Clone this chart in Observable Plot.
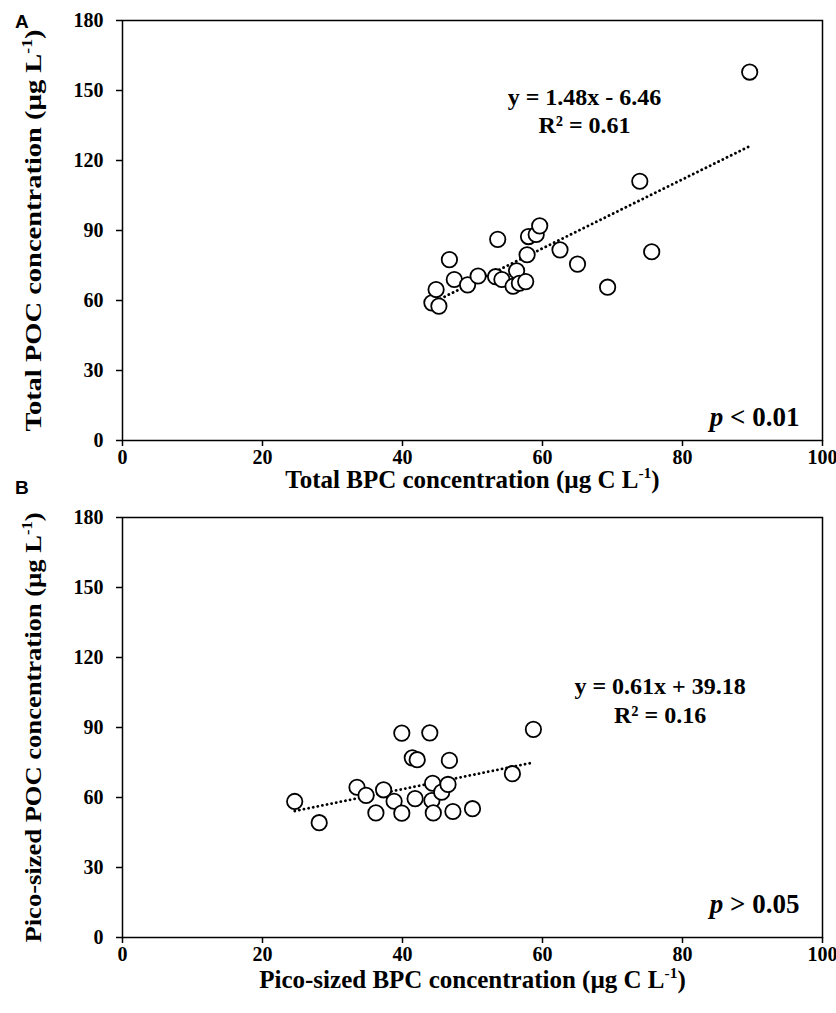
<!DOCTYPE html>
<html><head><meta charset="utf-8">
<script src="https://cdn.jsdelivr.net/npm/d3@7"></script>
<script src="https://cdn.jsdelivr.net/npm/@observablehq/plot@0.6"></script>
<style>
body{margin:0;background:#fff;}
#wrap{position:relative;width:836px;height:1013px;background:#fff;}
.panel{position:absolute;left:0;}
.tag{position:absolute;left:15px;font:bold 19px "Liberation Sans",Arial,sans-serif;color:#000;line-height:22px;}
</style></head><body>
<div id="wrap">
<div id="pa" class="panel" style="top:0"></div>
<div id="pb" class="panel" style="top:497px"></div>
<div class="tag" style="top:11px">A</div>
<div class="tag" style="top:477px">B</div>
</div>
<script>
// ---- data ----
const xTicks = [0, 20, 40, 60, 80, 100];
const yTicks = [0, 30, 60, 90, 120, 150, 180];

const totalBPC = [44.2,45.2,44.8,46.7,47.4,49.3,50.8,53.3,54.2,53.6,56.3,55.8,56.7,57.6,57.8,58.0,59.1,59.6,62.5,65.0,69.3,75.6,73.9,89.6];
const totalPOC = [59.0,57.6,64.7,77.5,69.0,66.7,70.5,70.2,69.0,86.2,72.7,66.1,67.4,68.1,79.6,87.4,88.3,92.0,81.7,75.6,65.7,80.9,111.1,157.9];
const trendA_x = [44.2, 89.6];
const trendA_y = [58.96, 126.15];

const picoBPC = [24.6,28.1,33.5,34.8,36.2,37.3,38.8,39.9,39.9,41.4,42.1,41.8,43.9,44.2,44.4,44.3,45.6,46.5,46.7,47.2,50.0,55.7,58.7];
const picoPOC = [58.3,49.2,64.4,60.9,53.4,63.3,58.4,53.3,87.6,77.0,76.2,59.5,87.7,58.7,53.4,66.1,62.3,65.6,75.9,54.0,55.2,70.2,89.2];
const trendB_x = [24.6, 58.7];
const trendB_y = [54.19, 74.99];

const titlesA = {x: ["Total BPC concentration (µg C L", "-1", ")"], y: ["Total POC concentration (µg L", "-1", ")"]};
const titlesB = {x: ["Pico-sized BPC concentration (µg C L", "-1", ")"], y: ["Pico-sized POC concentration (µg L", "-1", ")"]};
const eqA = ["y = 1.48x - 6.46", "R² = 0.61"];
const eqB = ["y = 0.61x + 39.18", "R² = 0.16"];
const pA = ["p", " < 0.01"];
const pB = ["p", " > 0.05"];

// ---- drawing ----
const FONT = '"Liberation Serif","Times New Roman",serif';

function findText(svg, str) {
  return d3.select(svg).selectAll("text").filter(function () { return this.textContent === str; });
}
function supTitle(svg, parts, size, len) {
  const t = findText(svg, parts.join(""));
  t.text(null);
  t.append("tspan").text(parts[0]);
  t.append("tspan").attr("dy", -size * 0.38).attr("font-size", size * 0.62).text(parts[1]);
  t.append("tspan").attr("dy", size * 0.38).text(parts[2]);
  if (len) t.attr("textLength", len).attr("lengthAdjust", "spacingAndGlyphs");
}
function pLabel(svg, parts) {
  const t = findText(svg, parts.join(""));
  t.text(null);
  t.append("tspan").attr("font-style", "italic").text(parts[0]);
  t.append("tspan").text(parts[1]);
}

function panel(o) {
  const pts = o.xs.map((x, i) => ({x, y: o.ys[i]}));
  const trend = o.tx.map((x, i) => ({x, y: o.ty[i]}));
  const svg = Plot.plot({
    width: 836, height: o.h,
    marginLeft: 122, marginRight: 14, marginTop: o.mt, marginBottom: o.mb,
    style: {fontFamily: FONT, fontWeight: "bold", fontSize: "20px", color: "#000", background: "#fff", overflow: "visible"},
    x: {domain: [0, 100], ticks: xTicks, label: null},
    y: {domain: [0, 180], ticks: yTicks, label: null},
    marks: [
      Plot.axisX({ticks: xTicks, tickSize: 6, tickPadding: 3, strokeWidth: 1.5, label: null, fontSize: 20}),
      Plot.axisY({ticks: yTicks, tickSize: 6, tickPadding: 13, strokeWidth: 1.5, label: null, fontSize: 20}),
      Plot.frame({stroke: "#000", strokeWidth: 1.5}),
      Plot.line(trend, {x: "x", y: "y", stroke: "#000", strokeWidth: 2.8, strokeDasharray: "0.1 4.6", strokeLinecap: "round"}),
      Plot.dot(pts, {x: "x", y: "y", r: 7.7, stroke: "#000", strokeWidth: 1.8, fill: "#fff"}),
      Plot.text([{x: o.eqX, y: o.eqY, t: o.eq[0]}, {x: o.eqX, y: o.r2Y, t: o.eq[1]}],
        {x: "x", y: "y", text: "t", fontSize: 24, fontWeight: "bold", textAnchor: "middle", lineAnchor: "middle", fill: "#000"}),
      Plot.text([{x: 96.7, y: o.pY, t: o.p.join("")}],
        {x: "x", y: "y", text: "t", fontSize: 27, fontWeight: "bold", textAnchor: "end", lineAnchor: "middle", fill: "#000"}),
      Plot.text([o.titles.x.join("")], {frameAnchor: "bottom", dy: o.xtDy, textAnchor: "middle", lineAnchor: "middle", fontSize: 25, fontWeight: "bold", fill: "#000"}),
      Plot.text([o.titles.y.join("")], {frameAnchor: "left", dx: -89, rotate: -90, textAnchor: "middle", lineAnchor: "middle", fontSize: 23, fontWeight: "bold", fill: "#000"})
    ]
  });
  document.getElementById(o.el).appendChild(svg);
  supTitle(svg, o.titles.x, 25, null);
  supTitle(svg, o.titles.y, 23, o.yLen);
  pLabel(svg, o.p);
}

panel({el: "pa", h: 497, mt: 20, mb: 57, xs: totalBPC, ys: totalPOC, tx: trendA_x, ty: trendA_y,
  eq: eqA, eqX: 66.0, eqY: 147.0, r2Y: 135.0, p: pA, pY: 10.0, titles: titlesA, xtDy: 39, yLen: 402});
panel({el: "pb", h: 516, mt: 20, mb: 76, xs: picoBPC, ys: picoPOC, tx: trendB_x, ty: trendB_y,
  eq: eqB, eqX: 76.8, eqY: 107.6, r2Y: 95.2, p: pB, pY: 14.3, titles: titlesB, xtDy: 42, yLen: 430});
</script>
</body></html>
